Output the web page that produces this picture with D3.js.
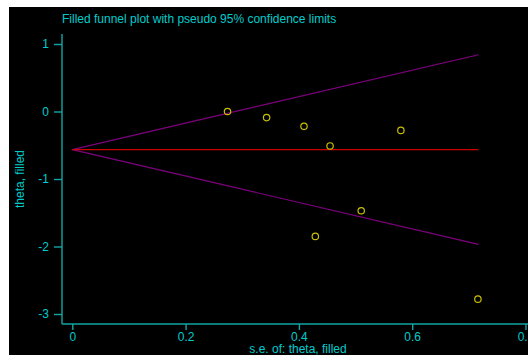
<!DOCTYPE html>
<html>
<head>
<meta charset="utf-8">
<script src="https://cdn.jsdelivr.net/npm/d3@7"></script>
<style>
  html, body { margin: 0; padding: 0; background: #fff; }
  svg { display: block; }
  text { font-family: "Liberation Sans", Arial, Helvetica, sans-serif; }
</style>
</head>
<body>
<div id="chart"></div>
<script>
// study estimates (filled)
const se = [0.274, 0.343, 0.409, 0.455, 0.580, 0.510, 0.429, 0.716];
const theta = [0.00, -0.09, -0.22, -0.51, -0.28, -1.47, -1.85, -2.78];
const pooled = -0.564;
const seMax = 0.717;
const xTicks = [0, 0.2, 0.4, 0.6, 0.8];
const yTicks = [1, 0, -1, -2, -3];

const W = 528, H = 355;
const cyan = '#00cccc', axisCol = '#13a5a5';

const svg = d3.select('#chart').append('svg')
    .attr('width', W)
    .attr('height', H);

svg.append('rect')
    .attr('x', 9).attr('y', 7)
    .attr('width', W - 9).attr('height', H - 7)
    .attr('fill', '#000');

const x = d3.scaleLinear().domain([0, 0.8]).range([72.3, 525.5]);
const y = d3.scaleLinear().domain([-3, 1]).range([314, 44]);

const left = 62, bottom = 324;

// axis lines
svg.append('line')
    .attr('x1', left).attr('x2', left)
    .attr('y1', 34).attr('y2', bottom)
    .attr('stroke', axisCol).attr('stroke-width', 1.4);
svg.append('line')
    .attr('x1', left).attr('x2', W)
    .attr('y1', bottom).attr('y2', bottom)
    .attr('stroke', axisCol).attr('stroke-width', 1.4);

const xAxis = svg.append('g')
    .attr('transform', `translate(0,${bottom})`)
    .call(d3.axisBottom(x).tickValues(xTicks).tickSize(6).tickSizeOuter(0)
      .tickFormat(d => String(d)));
const yAxis = svg.append('g')
    .attr('transform', `translate(${left},0)`)
    .call(d3.axisLeft(y).tickValues(yTicks).tickSize(8).tickSizeOuter(0)
      .tickFormat(d => String(d)));

[xAxis, yAxis].forEach(g => {
  g.select('.domain').remove();
  g.selectAll('line').attr('stroke', axisCol).attr('stroke-width', 1.4);
  g.selectAll('text')
      .attr('fill', cyan)
      .attr('font-size', 12)
      .attr('font-family', '"Liberation Sans", Arial, sans-serif');
});
xAxis.selectAll('text').attr('dy', '0.71em').attr('y', 8);
yAxis.selectAll('text').attr('x', -13);

// funnel
const funnel = svg.append('g');
funnel.append('line')
    .attr('x1', x(0)).attr('y1', y(pooled))
    .attr('x2', x(seMax)).attr('y2', y(pooled + 1.96 * seMax))
    .attr('stroke', '#800080').attr('stroke-width', 1.2);
funnel.append('line')
    .attr('x1', x(0)).attr('y1', y(pooled))
    .attr('x2', x(seMax)).attr('y2', y(pooled - 1.96 * seMax))
    .attr('stroke', '#800080').attr('stroke-width', 1.2);
funnel.append('line')
    .attr('x1', x(0)).attr('y1', y(pooled))
    .attr('x2', x(seMax)).attr('y2', y(pooled))
    .attr('stroke', '#cc0000').attr('stroke-width', 1.2);

svg.append('g')
  .selectAll('circle')
  .data(se.map((s, i) => ({s: s, t: theta[i]})))
  .join('circle')
    .attr('cx', d => x(d.s))
    .attr('cy', d => y(d.t))
    .attr('r', 3.2)
    .attr('fill', 'none')
    .attr('stroke', '#c8c000')
    .attr('stroke-width', 1.2);

// titles
svg.append('text')
    .attr('x', 62).attr('y', 23)
    .attr('fill', cyan).attr('font-size', 12)
    .text('Filled funnel plot with pseudo 95% confidence limits');

svg.append('text')
    .attr('x', 298).attr('y', 352.5)
    .attr('text-anchor', 'middle')
    .attr('fill', cyan).attr('font-size', 12)
    .text('s.e. of: theta, filled');

svg.append('text')
    .attr('transform', 'translate(24,179) rotate(-90)')
    .attr('text-anchor', 'middle')
    .attr('fill', cyan).attr('font-size', 12)
    .text('theta, filled');
</script>
</body>
</html>
